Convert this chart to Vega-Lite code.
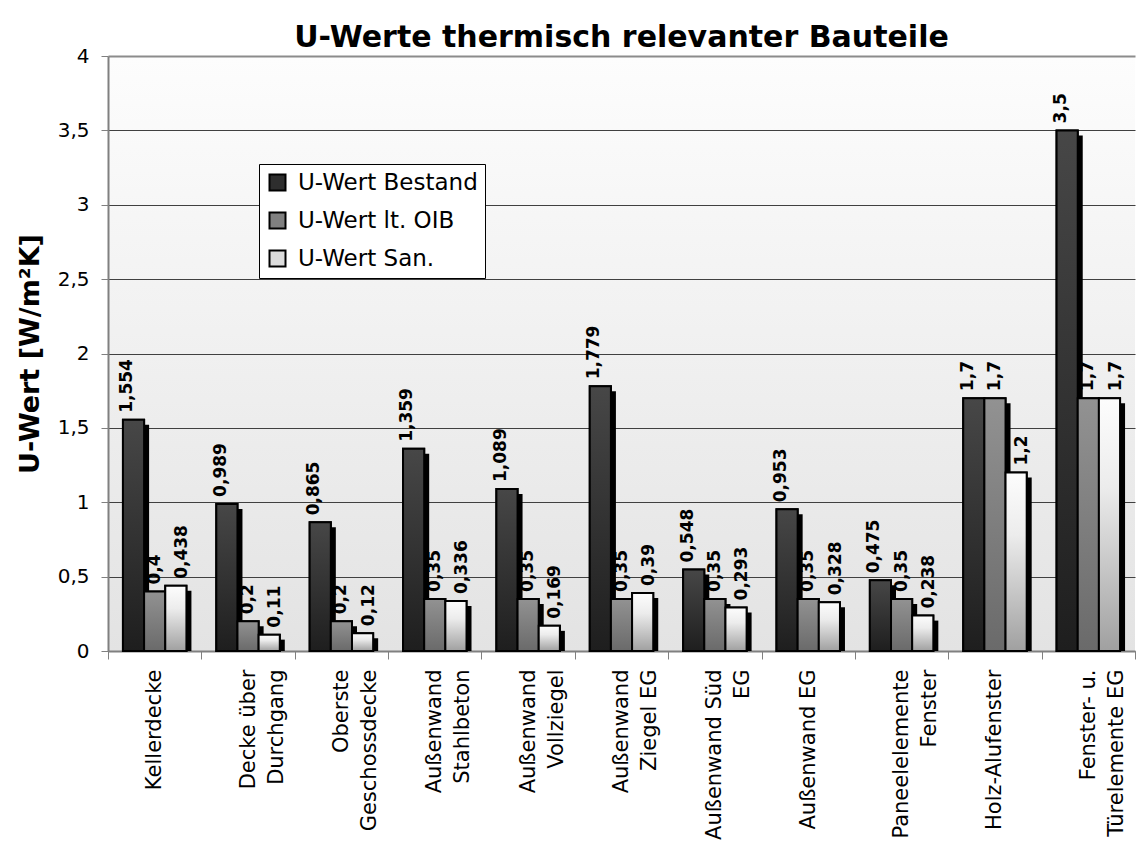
{
  "$schema": "https://vega.github.io/schema/vega-lite/v6.json",
  "width": 1136,
  "height": 842,
  "autosize": {"type": "fit", "contains": "padding"},
  "padding": {"left": 16, "top": 23, "right": 0, "bottom": 2},
  "title": {"text": "U-Werte thermisch relevanter Bauteile", "fontSize": 30, "font": "DejaVu Sans", "fontWeight": "bold", "anchor": "middle", "frame": "group", "offset": -7, "color": "black"},
  "config": {
    "locale": {"number": {"decimal": ",", "thousands": ".", "grouping": [3], "currency": ["", " €"]}},
    "font": "DejaVu Sans",
    "view": {"stroke": null, "fill": {"gradient": "linear", "x1": 0, "y1": 0, "x2": 0, "y2": 1, "stops": [{"offset": 0, "color": "#fdfdfd"}, {"offset": 1, "color": "#e3e3e3"}]}}
  },
  "data": {"values": [
    {"cat": "Kellerdecke", "series": "U-Wert Bestand", "value": 1.554},
    {"cat": "Kellerdecke", "series": "U-Wert lt. OIB", "value": 0.4},
    {"cat": "Kellerdecke", "series": "U-Wert San.", "value": 0.438},
    {"cat": "Decke über|Durchgang", "series": "U-Wert Bestand", "value": 0.989},
    {"cat": "Decke über|Durchgang", "series": "U-Wert lt. OIB", "value": 0.2},
    {"cat": "Decke über|Durchgang", "series": "U-Wert San.", "value": 0.11},
    {"cat": "Oberste|Geschossdecke", "series": "U-Wert Bestand", "value": 0.865},
    {"cat": "Oberste|Geschossdecke", "series": "U-Wert lt. OIB", "value": 0.2},
    {"cat": "Oberste|Geschossdecke", "series": "U-Wert San.", "value": 0.12},
    {"cat": "Außenwand|Stahlbeton", "series": "U-Wert Bestand", "value": 1.359},
    {"cat": "Außenwand|Stahlbeton", "series": "U-Wert lt. OIB", "value": 0.35},
    {"cat": "Außenwand|Stahlbeton", "series": "U-Wert San.", "value": 0.336},
    {"cat": "Außenwand|Vollziegel", "series": "U-Wert Bestand", "value": 1.089},
    {"cat": "Außenwand|Vollziegel", "series": "U-Wert lt. OIB", "value": 0.35},
    {"cat": "Außenwand|Vollziegel", "series": "U-Wert San.", "value": 0.169},
    {"cat": "Außenwand|Ziegel EG", "series": "U-Wert Bestand", "value": 1.779},
    {"cat": "Außenwand|Ziegel EG", "series": "U-Wert lt. OIB", "value": 0.35},
    {"cat": "Außenwand|Ziegel EG", "series": "U-Wert San.", "value": 0.39},
    {"cat": "Außenwand Süd|EG", "series": "U-Wert Bestand", "value": 0.548},
    {"cat": "Außenwand Süd|EG", "series": "U-Wert lt. OIB", "value": 0.35},
    {"cat": "Außenwand Süd|EG", "series": "U-Wert San.", "value": 0.293},
    {"cat": "Außenwand EG", "series": "U-Wert Bestand", "value": 0.953},
    {"cat": "Außenwand EG", "series": "U-Wert lt. OIB", "value": 0.35},
    {"cat": "Außenwand EG", "series": "U-Wert San.", "value": 0.328},
    {"cat": "Paneelelemente|Fenster", "series": "U-Wert Bestand", "value": 0.475},
    {"cat": "Paneelelemente|Fenster", "series": "U-Wert lt. OIB", "value": 0.35},
    {"cat": "Paneelelemente|Fenster", "series": "U-Wert San.", "value": 0.238},
    {"cat": "Holz-Alufenster", "series": "U-Wert Bestand", "value": 1.7},
    {"cat": "Holz-Alufenster", "series": "U-Wert lt. OIB", "value": 1.7},
    {"cat": "Holz-Alufenster", "series": "U-Wert San.", "value": 1.2},
    {"cat": "Fenster- u.|Türelemente EG", "series": "U-Wert Bestand", "value": 3.5},
    {"cat": "Fenster- u.|Türelemente EG", "series": "U-Wert lt. OIB", "value": 1.7},
    {"cat": "Fenster- u.|Türelemente EG", "series": "U-Wert San.", "value": 1.7}
  ]},
  "encoding": {
    "x": {
      "field": "cat", "type": "nominal", "sort": null,
      "scale": {"paddingInner": 0, "paddingOuter": 0},
      "axis": {
        "title": null, "labelAngle": -90, "labelAlign": "right", "labelBaseline": "middle",
        "labelFontSize": 21, "labelFont": "DejaVu Sans", "labelColor": "black", "labelLineHeight": 28,
        "labelExpr": "split(datum.label, '|')", "labelLimit": 400, "labelOverlap": false,
        "tickBand": "extent", "tickSize": 8, "tickColor": "#808080", "tickWidth": 1,
        "domainColor": "#808080", "domainWidth": 2, "labelPadding": 10, "grid": false
      }
    },
    "y": {
      "field": "value", "type": "quantitative",
      "scale": {"domain": [0, 4], "nice": false},
      "axis": {
        "title": "U-Wert [W/m²K]", "titleFontSize": 27, "titleFont": "DejaVu Sans", "titleFontWeight": "bold",
        "titleColor": "black", "titlePadding": 13,
        "values": [0, 0.5, 1, 1.5, 2, 2.5, 3, 3.5, 4], "format": "~g",
        "labelFontSize": 20, "labelFont": "DejaVu Sans", "labelColor": "black", "labelPadding": 12,
        "tickSize": 7, "tickColor": "#808080", "domainColor": "#808080", "domainWidth": 2,
        "grid": true,
        "gridColor": {"condition": {"test": "datum.value === 4", "value": "#8c8c8c"}, "value": "#404040"},
        "gridWidth": {"condition": {"test": "datum.value === 4", "value": 2}, "value": 1}
      }
    }
  },
  "layer": [
    {
      "mark": {"type": "bar", "color": "black", "yOffset": 5, "clip": true},
      "encoding": {
        "xOffset": {"field": "series", "type": "nominal", "scale": {"domain": ["U-Wert Bestand", "U-Wert lt. OIB", "U-Wert San."], "paddingInner": 0, "paddingOuter": 0.706, "range": [5, {"expr": "bandwidth('x') + 5"}]}}
      }
    },
    {
      "mark": {"type": "bar", "stroke": "black", "strokeWidth": 2},
      "encoding": {
        "xOffset": {"field": "series", "type": "nominal", "scale": {"domain": ["U-Wert Bestand", "U-Wert lt. OIB", "U-Wert San."], "paddingInner": 0, "paddingOuter": 0.706}},
        "color": {
          "field": "series", "type": "nominal",
          "scale": {"domain": ["U-Wert Bestand", "U-Wert lt. OIB", "U-Wert San."], "range": ["#2e2e2e", "#808080", "#dcdcdc"]},
          "legend": {
            "title": null, "orient": "none", "legendX": 151, "legendY": 108,
            "fillColor": "white", "strokeColor": "black", "padding": 7,
            "labelFontSize": 23, "labelFont": "DejaVu Sans", "labelColor": "black", "labelLimit": 400,
            "symbolType": "square", "symbolSize": 256, "symbolStrokeColor": "black", "symbolStrokeWidth": 2,
            "symbolOpacity": 1, "rowPadding": 13, "labelOffset": 9
          }
        }
      }
    },
    {
      "transform": [{"filter": "datum.series === 'U-Wert Bestand'"}],
      "mark": {"type": "bar", "stroke": "black", "strokeWidth": 2,
        "fill": {"gradient": "linear", "x1": 0, "y1": 0, "x2": 0, "y2": 1, "stops": [{"offset": 0, "color": "#474747"}, {"offset": 1, "color": "#1e1e1e"}]}},
      "encoding": {
        "xOffset": {"field": "series", "type": "nominal", "scale": {"domain": ["U-Wert Bestand", "U-Wert lt. OIB", "U-Wert San."], "paddingInner": 0, "paddingOuter": 0.706}}
      }
    },
    {
      "transform": [{"filter": "datum.series === 'U-Wert lt. OIB'"}],
      "mark": {"type": "bar", "stroke": "black", "strokeWidth": 2,
        "fill": {"gradient": "linear", "x1": 0, "y1": 0, "x2": 0, "y2": 1, "stops": [{"offset": 0, "color": "#929292"}, {"offset": 1, "color": "#6a6a6a"}]}},
      "encoding": {
        "xOffset": {"field": "series", "type": "nominal", "scale": {"domain": ["U-Wert Bestand", "U-Wert lt. OIB", "U-Wert San."], "paddingInner": 0, "paddingOuter": 0.706}}
      }
    },
    {
      "transform": [{"filter": "datum.series === 'U-Wert San.'"}],
      "mark": {"type": "bar", "stroke": "black", "strokeWidth": 2,
        "fill": {"gradient": "linear", "x1": 0, "y1": 0, "x2": 0, "y2": 1, "stops": [{"offset": 0, "color": "#fdfdfd"}, {"offset": 0.35, "color": "#ececec"}, {"offset": 1, "color": "#a0a0a0"}]}},
      "encoding": {
        "xOffset": {"field": "series", "type": "nominal", "scale": {"domain": ["U-Wert Bestand", "U-Wert lt. OIB", "U-Wert San."], "paddingInner": 0, "paddingOuter": 0.706}}
      }
    },
    {
      "mark": {"type": "text", "angle": 270, "align": "left", "baseline": "middle", "dx": 7, "fontSize": 17, "fontWeight": "bold", "font": "DejaVu Sans", "color": "black"},
      "encoding": {
        "xOffset": {"field": "series", "type": "nominal", "scale": {"domain": ["U-Wert Bestand", "U-Wert lt. OIB", "U-Wert San."], "paddingInner": 0, "paddingOuter": 0.706}},
        "text": {"field": "value", "type": "quantitative", "format": ".4~g"}
      }
    }
  ],
  "resolve": {"scale": {"xOffset": "independent"}}
}
